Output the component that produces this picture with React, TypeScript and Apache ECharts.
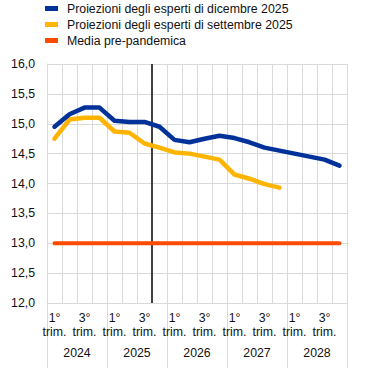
import React, { useEffect, useRef } from "react";
import * as echarts from "echarts";

const categories = [
  "2024 T1", "2024 T2", "2024 T3", "2024 T4",
  "2025 T1", "2025 T2", "2025 T3", "2025 T4",
  "2026 T1", "2026 T2", "2026 T3", "2026 T4",
  "2027 T1", "2027 T2", "2027 T3", "2027 T4",
  "2028 T1", "2028 T2", "2028 T3", "2028 T4",
];
const quarterTickLabels = [
  "1°\ntrim.", "", "3°\ntrim.", "",
  "1°\ntrim.", "", "3°\ntrim.", "",
  "1°\ntrim.", "", "3°\ntrim.", "",
  "1°\ntrim.", "", "3°\ntrim.", "",
  "1°\ntrim.", "", "3°\ntrim.", "",
];
const years = ["2024", "2025", "2026", "2027", "2028"];

const december2025 = [
  14.95, 15.16, 15.27, 15.27, 15.05, 15.03, 15.03, 14.95,
  14.73, 14.69, 14.75, 14.80, 14.76, 14.69, 14.60, 14.55,
  14.50, 14.45, 14.40, 14.30,
];
const september2025 = [
  14.75, 15.07, 15.10, 15.10, 14.87, 14.85, 14.67, 14.60,
  14.52, 14.50, 14.45, 14.40, 14.15, 14.08, 13.99, 13.93,
];
const prePandemic = [
  13.0, 13.0, 13.0, 13.0, 13.0, 13.0, 13.0, 13.0,
  13.0, 13.0, 13.0, 13.0, 13.0, 13.0, 13.0, 13.0,
  13.0, 13.0, 13.0, 13.0,
];
// boundary (in quarter units) where the vertical reference line sits
const cutoffPosition = 7;

const seriesNames = [
  "Proiezioni degli esperti di dicembre 2025",
  "Proiezioni degli esperti di settembre 2025",
  "Media pre-pandemica",
];

const FONT = "Liberation Sans, Arial, sans-serif";
const FS = 12.3;
const GRID = "#d9d9d9";

export default function App() {
  const ref = useRef<HTMLDivElement>(null);
  useEffect(() => {
    if (!ref.current) return;
    const chart = echarts.init(ref.current, null, { renderer: "svg" });
    chart.setOption({
      animation: false,
      textStyle: { fontFamily: FONT },
      legend: {
        orient: "vertical",
        left: 45,
        top: 2,
        padding: 0,
        itemWidth: 13,
        itemHeight: 5,
        itemGap: 3,
        icon: "rect",
        data: seriesNames,
        textStyle: {
          fontFamily: FONT,
          fontSize: FS,
          color: "#111",
          lineHeight: 13,
          padding: [0, 0, 0, 4],
        },
      },
      grid: { left: 47, right: 20, top: 64, bottom: 65, containLabel: false },
      xAxis: [
        {
          type: "category",
          data: categories,
          boundaryGap: true,
          axisLine: { show: true, lineStyle: { color: GRID, width: 1 } },
          axisTick: { show: false },
          splitLine: { show: true, interval: 0, lineStyle: { color: GRID, width: 1 } },
          axisLabel: {
            interval: 0,
            margin: 8,
            fontFamily: FONT,
            fontSize: FS,
            lineHeight: 14,
            color: "#111",
            formatter: (_v: string, i: number) => quarterTickLabels[i],
          },
        },
        {
          type: "category",
          data: years,
          position: "bottom",
          offset: 0,
          boundaryGap: true,
          axisLine: { show: false },
          axisTick: { show: true, interval: 0, length: 66, lineStyle: { color: GRID, width: 1 } },
          splitLine: { show: false },
          axisLabel: {
            interval: 0,
            margin: 44,
            fontFamily: FONT,
            fontSize: FS,
            color: "#111",
          },
        },
        {
          type: "value",
          min: 0,
          max: 20,
          show: false,
        },
      ],
      yAxis: {
        type: "value",
        min: 12,
        max: 16,
        interval: 0.5,
        axisLine: { show: true, lineStyle: { color: GRID, width: 1 } },
        axisTick: { show: false },
        splitLine: { show: true, lineStyle: { color: GRID, width: 1 } },
        axisLabel: {
          margin: 12,
          fontFamily: FONT,
          fontSize: FS,
          color: "#111",
          formatter: (v: number) => v.toFixed(1).replace(".", ","),
        },
      },
      series: [
        {
          type: "line",
          name: "cutoff",
          xAxisIndex: 2,
          data: [
            [cutoffPosition, 12],
            [cutoffPosition, 16],
          ],
          symbol: "none",
          silent: true,
          lineStyle: { color: "#404040", width: 2 },
          z: 1,
        },
        {
          type: "line",
          name: seriesNames[2],
          xAxisIndex: 0,
          data: prePandemic,
          symbol: "none",
          color: "#FF4B00",
          lineStyle: { color: "#FF4B00", width: 4, cap: "round" },
          z: 2,
        },
        {
          type: "line",
          name: seriesNames[1],
          xAxisIndex: 0,
          data: september2025,
          symbol: "none",
          color: "#FFB400",
          lineStyle: { color: "#FFB400", width: 4.5, cap: "round", join: "round" },
          z: 3,
        },
        {
          type: "line",
          name: seriesNames[0],
          xAxisIndex: 0,
          data: december2025,
          symbol: "none",
          color: "#003299",
          lineStyle: { color: "#003299", width: 4.5, cap: "round", join: "round" },
          z: 4,
        },
      ],
    });
    return () => chart.dispose();
  }, []);
  return (
    <div
      ref={ref}
      style={{ position: "fixed", left: 0, top: 0, width: 367, height: 368, background: "#fff" }}
    />
  );
}
